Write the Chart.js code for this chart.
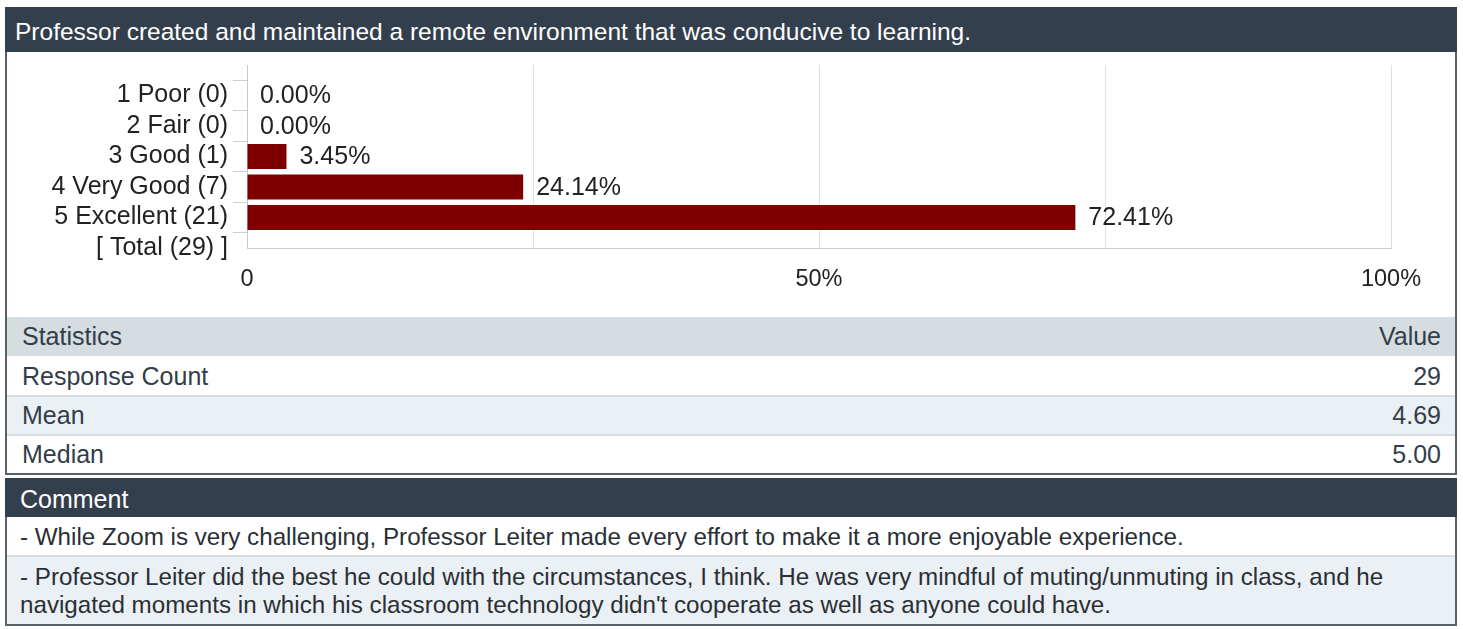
<!DOCTYPE html>
<html>
<head>
<meta charset="utf-8">
<script src="https://cdn.jsdelivr.net/npm/chart.js@4.4.1/dist/chart.umd.min.js"></script>
<style>
  html, body { margin:0; padding:0; background:#ffffff; width:1463px; height:629px; overflow:hidden; }
  body { font-family: "Liberation Sans", Arial, sans-serif; position:relative; }
  .abs { position:absolute; box-sizing:border-box; }
  .dark { background:#343f4e; color:#ffffff; }
  .bord { background:#56616e; }
  .sep { background:#d5dde1; }
  .txt { font-size:25px; color:#333d4a; white-space:nowrap; }
</style>
</head>
<body>
<script>
// ---------- data ----------
const questionTitle = "Professor created and maintained a remote environment that was conducive to learning.";
const categories = ["1 Poor (0)", "2 Fair (0)", "3 Good (1)", "4 Very Good (7)", "5 Excellent (21)", "[ Total (29) ]"];
const percentValues = [0, 0, 3.45, 24.14, 72.41, null];
const valueLabels = ["0.00%", "0.00%", "3.45%", "24.14%", "72.41%", ""];
const xTickValues = [0, 25, 50, 75, 100];
const xTickLabels = ["0", "", "50%", "", "100%"];
const statNames = ["Response Count", "Mean", "Median"];
const statValues = ["29", "4.69", "5.00"];
const comments = [
  "- While Zoom is very challenging, Professor Leiter made every effort to make it a more enjoyable experience.",
  "- Professor Leiter did the best he could with the circumstances, I think. He was very mindful of muting/unmuting in class, and he navigated moments in which his classroom technology didn't cooperate as well as anyone could have."
];
</script>

<!-- top panel -->
<div class="abs dark" id="title" style="left:5px;top:7px;width:1452px;height:45px;font-size:24.5px;padding-left:10px;padding-top:11px;white-space:nowrap;"></div>
<div class="abs bord" style="left:5px;top:52px;width:2px;height:423px;"></div>
<div class="abs bord" style="left:1455px;top:52px;width:2px;height:423px;"></div>
<div class="abs bord" style="left:5px;top:473px;width:1452px;height:2px;"></div>

<div class="abs" style="left:7px;top:52px;width:1448px;height:264px;">
  <canvas id="chart" width="1448" height="264" style="width:1448px;height:264px;"></canvas>
</div>

<!-- statistics -->
<div class="abs sep" style="left:7px;top:317px;width:1448px;height:39px;"></div>
<div class="abs txt" style="left:22px;top:322px;">Statistics</div>
<div class="abs txt" style="right:22px;top:322px;">Value</div>
<div id="stats"></div>

<!-- comments -->
<div class="abs dark" style="left:5px;top:478px;width:1452px;height:39px;font-size:25px;padding-left:15px;padding-top:7px;">Comment</div>
<div class="abs bord" style="left:5px;top:517px;width:2px;height:109px;"></div>
<div class="abs bord" style="left:1455px;top:517px;width:2px;height:109px;"></div>
<div class="abs bord" style="left:5px;top:624px;width:1452px;height:2px;"></div>
<div class="abs sep" style="left:7px;top:555px;width:1448px;height:2px;"></div>
<div class="abs" style="left:7px;top:557px;width:1448px;height:67px;background:#ebf0f4;"></div>
<div id="comments"></div>

<script>
document.getElementById('title').textContent = questionTitle;

// stats rows
const statsEl = document.getElementById('stats');
const rowTops = [358, 397, 436];
statNames.forEach((n, i) => {
  const top = rowTops[i];
  if (i === 1) {
    const bg = document.createElement('div');
    bg.className = 'abs'; bg.style.cssText = `left:7px;top:${top}px;width:1448px;height:37px;background:#ebf0f4;`;
    statsEl.appendChild(bg);
  }
  if (i > 0) {
    const s = document.createElement('div');
    s.className = 'abs sep'; s.style.cssText = `left:7px;top:${top-2}px;width:1448px;height:2px;`;
    statsEl.appendChild(s);
  }
  const a = document.createElement('div');
  a.className = 'abs txt'; a.style.cssText = `left:22px;top:${top+4}px;`; a.textContent = n;
  statsEl.appendChild(a);
  const b = document.createElement('div');
  b.className = 'abs txt'; b.style.cssText = `right:22px;top:${top+4}px;`; b.textContent = statValues[i];
  statsEl.appendChild(b);
});

// comments
const cEl = document.getElementById('comments');
const c1 = document.createElement('div');
c1.className = 'abs'; c1.style.cssText = 'left:20px;top:523px;font-size:24.2px;color:#2a2f36;white-space:nowrap;';
c1.textContent = comments[0];
cEl.appendChild(c1);
const c2 = document.createElement('div');
c2.className = 'abs'; c2.style.cssText = 'left:20px;top:563px;width:1420px;font-size:24.2px;line-height:28px;color:#2a2f36;';
c2.textContent = comments[1];
cEl.appendChild(c2);

// chart
const axisLabels = [""].concat(categories);
const axisValues = [null].concat(percentValues);
const axisValueLabels = [""].concat(valueLabels);

const valueLabelPlugin = {
  id: 'valueLabels',
  afterDatasetsDraw(chart) {
    const ctx = chart.ctx;
    const meta = chart.getDatasetMeta(0);
    ctx.save();
    ctx.font = '25px "Liberation Sans", Arial, sans-serif';
    ctx.fillStyle = '#222222';
    ctx.textAlign = 'left';
    ctx.textBaseline = 'middle';
    meta.data.forEach((el, i) => {
      const t = axisValueLabels[i];
      if (!t || axisValues[i] === null) return;
      ctx.fillText(t, el.x + 13, el.y + 1);
    });
    ctx.restore();
  }
};

new Chart(document.getElementById('chart'), {
  type: 'bar',
  data: {
    labels: axisLabels,
    datasets: [{
      data: axisValues,
      backgroundColor: '#7f0000',
      borderWidth: 0,
      barPercentage: 0.82,
      categoryPercentage: 1.0
    }]
  },
  options: {
    indexAxis: 'y',
    responsive: false,
    animation: false,
    events: [],
    layout: { padding: { left: 0, top: 13, right: 64, bottom: 0 } },
    plugins: { legend: { display: false }, tooltip: { enabled: false } },
    scales: {
      y: {
        type: 'category',
        offset: false,
        afterFit(scale) { scale.width = 240; scale.paddingTop = 0; scale.paddingBottom = 0; },
        grid: {
          drawOnChartArea: false,
          drawTicks: true,
          tickLength: 14,
          color: (c) => c.index === 0 ? 'rgba(0,0,0,0)' : '#cfcfcf'
        },
        border: { color: '#c8c8c8', width: 1 },
        ticks: {
          autoSkip: false,
          padding: 5,
          color: '#222222',
          font: { family: '"Liberation Sans", Arial, sans-serif', size: 25 }
        }
      },
      x: {
        type: 'linear',
        min: 0,
        max: 100,
        afterFit(scale) { scale.height = 68; },
        afterBuildTicks(scale) { scale.ticks = xTickValues.map(v => ({ value: v })); },
        grid: { color: '#e0e0e0', drawTicks: false },
        border: { color: '#cccccc', width: 1 },
        ticks: {
          padding: 17,
          maxRotation: 0,
          color: '#222222',
          font: { family: '"Liberation Sans", Arial, sans-serif', size: 23.5 },
          callback: (v) => { const i = xTickValues.indexOf(v); return i >= 0 ? xTickLabels[i] : ''; }
        }
      }
    }
  },
  plugins: [valueLabelPlugin]
});
</script>
</body>
</html>
